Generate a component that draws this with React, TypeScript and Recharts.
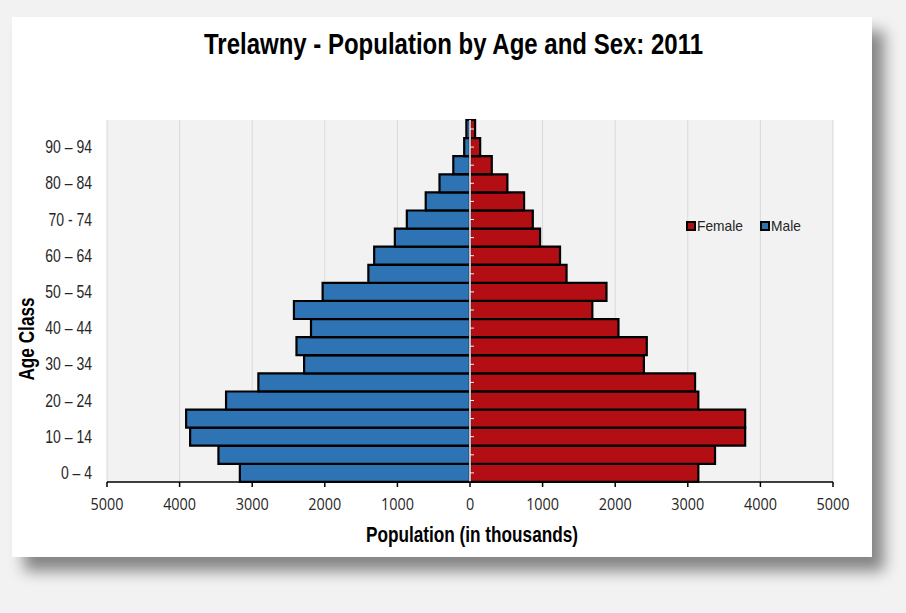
import React from 'react';
import {
  BarChart,
  Bar,
  XAxis,
  YAxis,
  CartesianGrid,
  ReferenceLine,
  Legend,
  Rectangle,
} from 'recharts';

// Age classes, youngest first
const ageClasses = [
  '0 – 4', '5 – 9', '10 – 14', '15 – 19', '20 – 24', '25 – 29', '30 – 34',
  '35 – 39', '40 – 44', '45 – 49', '50 – 54', '55 – 59', '60 – 64', '65 – 69',
  '70 - 74', '75 – 79', '80 – 84', '85 – 89', '90 – 94', '95+',
];

// Population per age class
const maleValues = [
  3170, 3465, 3855, 3910, 3360, 2915, 2285, 2390, 2190, 2425,
  2030, 1400, 1320, 1035, 870, 610, 420, 230, 80, 50,
];
const femaleValues = [
  3145, 3375, 3790, 3790, 3145, 3100, 2395, 2435, 2045, 1685,
  1880, 1330, 1240, 965, 865, 745, 515, 300, 140, 70,
];

const populationTicks = [-5000, -4000, -3000, -2000, -1000, 0, 1000, 2000, 3000, 4000, 5000];
const legendOrder = ['Female', 'Male'];

const MALE_COLOR = '#2e74b5';
const FEMALE_COLOR = '#b30e14';
const FONT = '"Liberation Sans", Arial, sans-serif';

const rows = ageClasses.map((age, i) => ({
  age,
  Male: -maleValues[i],
  Female: femaleValues[i],
}));

const AgeTick = (props: any) => {
  const { x, y, payload } = props;
  return (
    <text
      transform={`translate(${x},${y}) scale(0.8,1)`}
      textAnchor="end"
      dominantBaseline="central"
      fontSize={17.5}
      fontFamily={FONT}
      fill="#262626"
    >
      {payload.value}
    </text>
  );
};

const PopulationTick = (props: any) => {
  const { x, y, payload } = props;
  return (
    <text
      transform={`translate(${x},${y}) scale(0.93,1)`}
      y={21}
      textAnchor="middle"
      fontSize={15.5}
      fontFamily='"Open Sans", sans-serif'
      fill="#262626"
    >
      {Math.abs(payload.value)}
    </text>
  );
};

// Female bars also carry the small white tick on the zero line
const FemaleShape = (props: any) => {
  const { x, y, height } = props;
  const cy = y + height / 2;
  return (
    <g>
      <Rectangle {...props} />
      <line x1={x} x2={x + 4} y1={cy} y2={cy} stroke="#f4f4f4" strokeWidth={1} />
    </g>
  );
};

const LegendBox = (props: any) => {
  const items = [...(props.payload || [])].sort(
    (a: any, b: any) => legendOrder.indexOf(a.value) - legendOrder.indexOf(b.value)
  );
  return (
    <div style={{ display: 'flex', alignItems: 'center', fontFamily: FONT, fontSize: 14.5, color: '#262626' }}>
      {items.map((item: any, i: number) => (
        <div key={item.value} style={{ display: 'flex', alignItems: 'center', marginLeft: i === 0 ? 0 : 15 }}>
          <span
            style={{
              display: 'inline-block',
              width: 10,
              height: 10,
              boxSizing: 'border-box',
              border: '2px solid #000',
              background: item.color,
              marginRight: 1,
            }}
          />
          <span style={{ lineHeight: '16px', display: 'inline-block', transform: 'scaleX(0.95)', transformOrigin: 'left center' }}>
            {item.value}
          </span>
        </div>
      ))}
    </div>
  );
};

export default function App() {
  return (
    <div
      style={{
        position: 'absolute',
        left: 0,
        top: 0,
        width: 906,
        height: 613,
        background: '#f2f2f2',
        overflow: 'hidden',
      }}
    >
      <div
        style={{
          position: 'absolute',
          left: 12,
          top: 17,
          width: 860,
          height: 540,
          background: '#ffffff',
          boxShadow: '12px 14px 14px rgba(0,0,0,0.45)',
        }}
      />
      <div style={{ position: 'absolute', left: 0, top: 0 }}>
        <BarChart
          width={906}
          height={613}
          data={rows}
          layout="vertical"
          stackOffset="sign"
          barCategoryGap={0}
          margin={{ top: 120, right: 73, bottom: 101, left: 10 }}
        >
          <CartesianGrid horizontal={false} vertical stroke="#d9d9d9" fill="#f2f2f2" />
          <XAxis
            type="number"
            domain={[-5000, 5000]}
            ticks={populationTicks}
            interval={0}
            height={30}
            tickSize={5}
            tickMargin={2}
            axisLine={{ stroke: '#000', strokeWidth: 1.5 }}
            tickLine={{ stroke: '#000', strokeWidth: 1.5 }}
            tick={<PopulationTick />}
          />
          <YAxis
            type="category"
            dataKey="age"
            reversed
            interval={1}
            width={97}
            axisLine={false}
            tickLine={false}
            tickSize={8}
            tickMargin={7}
            tick={<AgeTick />}
          />
          <Legend
            layout="horizontal"
            verticalAlign="middle"
            align="center"
            wrapperStyle={{ left: 686, top: 218, width: 'auto' }}
            content={<LegendBox />}
          />
          <Bar
            dataKey="Male"
            name="Male"
            stackId="pop"
            fill={MALE_COLOR}
            stroke="#000"
            strokeWidth={2.2}
            isAnimationActive={false}
          />
          <Bar
            dataKey="Female"
            name="Female"
            stackId="pop"
            fill={FEMALE_COLOR}
            stroke="#000"
            strokeWidth={2.2}
            shape={<FemaleShape />}
            isAnimationActive={false}
          />
          <ReferenceLine x={0} stroke="#ffffff" strokeWidth={1.5} />
        </BarChart>
      </div>
      <svg
        width={906}
        height={613}
        style={{ position: 'absolute', left: 0, top: 0, pointerEvents: 'none' }}
      >
        <text
          transform="translate(453.5,54) scale(0.8,1)"
          textAnchor="middle"
          fontSize={30}
          fontWeight="bold"
          fontFamily={FONT}
          fill="#000"
        >
          Trelawny - Population by Age and Sex: 2011
        </text>
        <text
          transform="translate(472,542) scale(0.8,1)"
          textAnchor="middle"
          fontSize={21.5}
          fontWeight="bold"
          fontFamily={FONT}
          fill="#000"
        >
          Population (in thousands)
        </text>
        <text
          transform="translate(34,339) rotate(-90) scale(0.8,1)"
          textAnchor="middle"
          fontSize={21.5}
          fontWeight="bold"
          fontFamily={FONT}
          fill="#000"
        >
          Age Class
        </text>
      </svg>
    </div>
  );
}
